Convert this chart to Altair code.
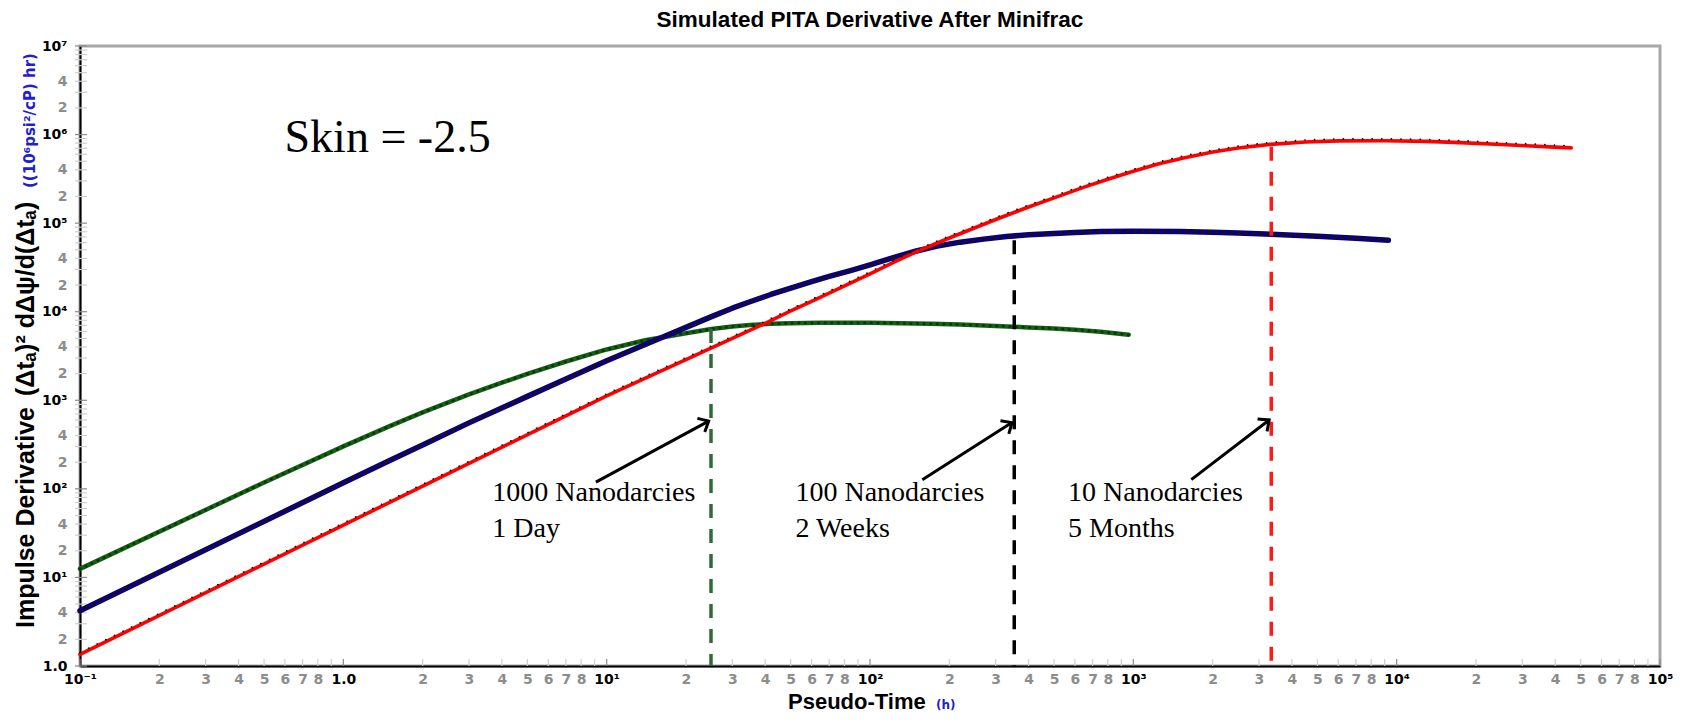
import math
import altair as alt
import pandas as pd

# ---------------- data ----------------
green_t = [0.1, 0.5, 1, 1.5, 2, 3, 4, 5, 7, 10, 14, 20, 25, 30, 35, 42, 50, 65, 80, 100, 130, 170, 220, 300, 400,
           500, 600, 750, 960]
green_v = [12.5, 118, 302, 510, 729, 1164, 1581, 1990, 2740, 3750, 4760, 5720, 6380, 6800, 7060, 7300, 7420, 7500,
           7520, 7500, 7430, 7300, 7150, 6900, 6650, 6450, 6250, 5950, 5500]

blue_t = [0.1, 1, 1.5, 2, 3, 5, 7, 10, 14, 20, 25, 30, 35, 42, 50, 60, 70, 85, 100, 120, 150, 180, 220, 270, 330,
          400, 500, 600, 750, 1000, 1500, 2000, 2500, 3500, 5000, 7000, 9300]
blue_v = [4.2, 117, 209, 312, 556, 1107, 1740, 2800, 4267, 6660, 8800, 10960, 12960, 15650, 18500, 21800, 25000,
          29300, 33800, 40000, 48500, 55000, 61000, 66000, 70500, 74000, 76500, 78500, 80300, 81200, 80600, 79000,
          77300, 74500, 71000, 67500, 64300]

red_t = [0.1, 1, 10, 15, 20, 25, 30, 40, 50, 60, 75, 100, 125, 150, 200, 300, 400, 500, 650, 800, 1000, 1250, 1550,
         2000, 2500, 3300, 4500, 6000, 9000, 13000, 17500, 25000, 31000, 38000, 46000]
red_v = [1.35, 39, 1120, 1950, 2880, 3900, 5000, 7400, 10200, 13100, 17900, 26800, 37000, 47500, 68000, 110000,
         152000, 193000, 255000, 313000, 385000, 468000, 545000, 635000, 705000, 775000, 825000, 848000, 852000,
         838000, 812000, 772000, 748000, 727000, 708000]

# dashed markers: time, top value
mark_t = [24.9, 353, 3340]
mark_top = [6400, 64000, 730000]
mark_bottom = [1, 1, 1]
mark_col = ["#2f6b3a", "#000000", "#ff1a1a"]

# arrows: tail (t0, v0) -> head (t1, v1)
arrow_t0 = [9.1, 158, 1660]
arrow_v0 = [119, 127, 127]
arrow_t1 = [24.4, 346, 3280]
arrow_v1 = [582, 560, 600]

# annotation texts
ann_text = ["1000 Nanodarcies\n1 Day", "100 Nanodarcies\n2 Weeks", "10 Nanodarcies\n5 Months"]
ann_t = [3.68, 52.1, 565]
ann_v = [72.8, 72.8, 72.8]

skin_text = ["Skin = -2.5"]
skin_t = [0.598]
skin_v = [638000]

major_labels = ["10⁻¹", "1.0", "10¹", "10²", "10³", "10⁴", "10⁵", "10⁶", "10⁷"]

# ---------------- layout ----------------
W, H = 1580, 620
SANS = "Liberation Sans, Arial, sans-serif"
TICKFONT = "DejaVu Sans, Verdana, sans-serif"
SERIF = "Liberation Serif, Times New Roman, serif"

x_ticks = [round(m * 10.0 ** k, 8) for k in range(-1, 5) for m in range(1, 10)] + [1e5]
y_ticks = [round(m * 10.0 ** k, 8) for k in range(0, 7) for m in range(1, 10)] + [1e7]

E = "floor(log(datum.value) / LN10 + 1e-6)"
M = f"round(datum.value / pow(10, {E}))"
LAB = "[" + ",".join(f"'{s}'" for s in major_labels) + "]"
x_label_expr = f"{M} == 1 ? {LAB}[{E} + 1] : ({M} <= 8 ? '' + {M} : '')"
y_label_expr = f"{M} == 1 ? {LAB}[{E} + 1] : (({M} == 2 || {M} == 4) ? '' + {M} : '')"
label_color = {"condition": {"test": f"{M} == 1", "value": "#000000"}, "value": "#8c8c8c"}

xs = alt.Scale(type="log", domain=[0.1, 1e5], nice=False)
ys = alt.Scale(type="log", domain=[1, 1e7], nice=False)

x_axis = alt.Axis(values=x_ticks, labelExpr=x_label_expr, labelColor=label_color, labelFont=TICKFONT,
                  labelFontWeight="bold", labelFontSize=14, labelOverlap=False, labelFlush=False,
                  ticks=False, labelPadding=6, domainColor="#000000", domainWidth=2, grid=False, title="")
y_axis = alt.Axis(values=y_ticks, labelExpr=y_label_expr, labelColor=label_color, labelFont=TICKFONT,
                  labelFontWeight="bold", labelFontSize=14, labelOverlap=False, labelFlush=False,
                  ticks=False, labelPadding=13, domainColor="#000000", domainWidth=2, grid=False, title="")


def X(field):
    return alt.X(f"{field}:Q", scale=xs, axis=x_axis)


def Y(field):
    return alt.Y(f"{field}:Q", scale=ys, axis=y_axis)


def is_major(v):
    return abs(math.log10(v) - round(math.log10(v))) < 1e-9


# ---------------- tick rules (inward) ----------------
xt = pd.DataFrame({"t": x_ticks, "c": ["#8a8a8a" if is_major(v) else "#cfcfcf" for v in x_ticks]})
yt = pd.DataFrame({"v": y_ticks, "c": ["#8a8a8a" if is_major(v) else "#cfcfcf" for v in y_ticks]})

xtick_layer = alt.Chart(xt).mark_rule(strokeWidth=1.2).encode(
    x=X("t"), y=alt.value(H - 7), y2=alt.value(H), color=alt.Color("c:N", scale=None))
ytick_layer = alt.Chart(yt).mark_rule(strokeWidth=1.2).encode(
    y=Y("v"), x=alt.value(-5), x2=alt.value(7), color=alt.Color("c:N", scale=None))

# ---------------- curves ----------------
g = pd.DataFrame({"t": green_t, "v": green_v})
b = pd.DataFrame({"t": blue_t, "v": blue_v})
r = pd.DataFrame({"t": red_t, "v": red_v})


def curve(df, color, width, dot_color, dot_width, dash, yoff=0.0):
    line = alt.Chart(df).mark_line(color=color, strokeWidth=width, strokeJoin="round", strokeCap="round").encode(
        x=X("t"), y=Y("v"))
    dots = alt.Chart(df).mark_line(color=dot_color, strokeWidth=dot_width, strokeCap="round",
                                   strokeDash=dash, yOffset=yoff).encode(x=X("t"), y=Y("v"))
    return [line, dots]


layers_curves = []
layers_curves += curve(g, "#156015", 4.5, "#0b360b", 3.0, [0.1, 6.5])
layers_curves += curve(b, "#00008b", 5.5, "#26081f", 4.0, [0.1, 7.3])
layers_curves += curve(r, "#ff0000", 3.6, "#000000", 1.7, [0.1, 9.5], yoff=-2.0)

# ---------------- dashed markers ----------------
md = pd.DataFrame({"t": mark_t, "top": mark_top, "bot": mark_bottom, "c": mark_col})
mark_layer = alt.Chart(md).mark_rule(strokeWidth=3.5, strokeDash=[14, 11]).encode(
    x=X("t"), y=Y("top"), y2="bot:Q", color=alt.Color("c:N", scale=None))


# ---------------- arrows ----------------
def px(t):
    return (math.log10(t) + 1) / 6 * W


def py(v):
    return H - math.log10(v) / 7 * H


angles = [math.degrees(math.atan2(py(v1) - py(v0), px(t1) - px(t0))) % 360
          for t0, v0, t1, v1 in zip(arrow_t0, arrow_v0, arrow_t1, arrow_v1)]
ar = pd.DataFrame({"t0": arrow_t0, "v0": arrow_v0, "t1": arrow_t1, "v1": arrow_v1, "ang": angles})
arrow_line = alt.Chart(ar).mark_rule(strokeWidth=3, color="#000000").encode(
    x=X("t0"), y=Y("v0"), x2="t1:Q", y2="v1:Q")
arrow_head = alt.Chart(ar).mark_point(shape="M-1,-0.9L0,0L-1,0.9", filled=False, strokeWidth=3,
                                      size=300, color="#000000", opacity=1, strokeJoin="miter").encode(
    x=X("t1"), y=Y("v1"), angle=alt.Angle("ang:Q", scale=None))

# ---------------- annotations ----------------
an = pd.DataFrame({"t": ann_t, "v": ann_v, "txt": ann_text})
ann_layer = alt.Chart(an).mark_text(align="left", baseline="alphabetic", font=SERIF, fontSize=28,
                                    lineBreak="\n", lineHeight=36, color="#000000").encode(
    x=X("t"), y=Y("v"), text="txt:N")

sk = pd.DataFrame({"t": skin_t, "v": skin_v, "txt": skin_text})
skin_layer = alt.Chart(sk).mark_text(align="left", baseline="alphabetic", font=SERIF, fontSize=46,
                                     color="#000000").encode(x=X("t"), y=Y("v"), text="txt:N")


# ---------------- titles as text ----------------
def label(txt, x, y, size, color="#000000", angle=0, align="left", baseline="alphabetic", font=SANS):
    return alt.Chart(pd.DataFrame({"txt": [txt]})).mark_text(
        align=align, baseline=baseline, font=font, fontSize=size, fontWeight="bold", color=color,
        angle=angle).encode(x=alt.value(x), y=alt.value(y), text="txt:N")


title_layer = label("Simulated PITA Derivative After Minifrac", W / 2, -19, 22.5, align="center")
xt1 = label("Pseudo-Time", 708, 663, 22)
xt2 = label("(h)", 856, 663, 12, color="#1f1fd0", font=TICKFONT)
yt1 = label("Impulse Derivative", -46, 582, 25, angle=270)
yt2 = label("(Δtₐ)² dΔψ/d(Δtₐ)", -46, 350, 25, angle=270)
yt3 = label("((10⁶psi²/cP) hr)", -45, 142, 15, color="#1f1fd0", angle=270, font=TICKFONT)

chart = alt.layer(
    xtick_layer, ytick_layer, *layers_curves, mark_layer, arrow_line, arrow_head, ann_layer, skin_layer,
    title_layer, xt1, xt2, yt1, yt2, yt3
).properties(
    width=W, height=H,
    padding={"left": 72, "top": 38, "right": 14, "bottom": 48},
    autosize=alt.AutoSizeParams(type="none"),
    background="#ffffff",
).configure_view(stroke="#a8a8a8", strokeWidth=3)

chart.save("out.html", embed_options={"renderer": "svg", "actions": False})
